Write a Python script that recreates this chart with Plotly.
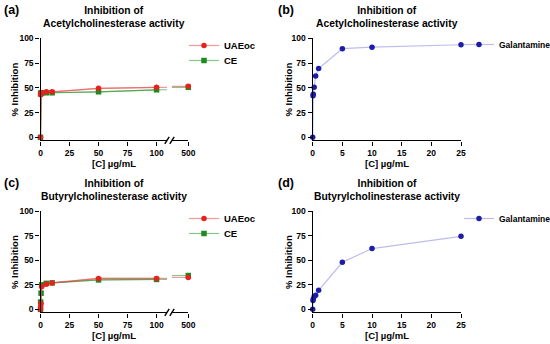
import plotly.graph_objects as go

# ---------------- data ----------------
conc_extract = [0, 0.1, 0.5, 1, 5, 10, 50, 100, 500]          # µg/mL
uaeoc_ache = [0, 43, 44.5, 45, 46, 46, 49.5, 50.5, 51.5]
ce_ache = [0, 44, 45, 45, 45, 45, 46, 48, 50.5]
uaeoc_bche = [0, 3, 6, 23, 25.5, 27, 31.5, 31.5, 32.5]
ce_bche = [0, 7.5, 16.5, 25, 26.5, 27, 30, 30.5, 34.5]

conc_gal = [0, 0.05, 0.1, 0.25, 0.5, 1, 5, 10, 25]
gal_ache = [0, 42, 43.5, 50.5, 62, 69.5, 89.5, 91, 93.5]
gal_bche = [0, 9, 10.5, 13, 14.5, 19.5, 48, 62, 74.5]

x_ticks_main = [0, 25, 50, 75, 100]
x_ticks_break = [500]
x_ticks_gal = [0, 5, 10, 15, 20, 25]
y_ticks = [0, 25, 50, 75, 100]
break_at = 100

# ---------------- style ----------------
W, H = 550, 344
FONT = "Liberation Sans"
RED, RED_L = "#e8201e", "rgba(235,70,70,0.55)"
GREEN, GREEN_L = "#1f8a1f", "rgba(40,150,40,0.55)"
BLUE, BLUE_L = "#1c1ca8", "rgba(90,90,210,0.40)"


def px_x(p):
    return p / W


def px_y(p):
    return 1 - p / H


fig = go.Figure()

tickfont = dict(family=FONT, size=8.5, color="black", weight="bold")
axis_common = dict(showline=True, linecolor="black", linewidth=1.4, ticks="outside",
                   ticklen=4, tickwidth=1.4, tickcolor="black", showgrid=False,
                   zeroline=False, tickfont=tickfont)

rows = {"top": (38.3, 140.3), "bottom": (211.3, 312.3)}
left1, left2, right = (40.5, 167), (172, 188.3), (312.7, 461)

layout_axes = {}


def xax(name, dom, rng, tickvals, anchor):
    layout_axes[name] = dict(axis_common, domain=[px_x(dom[0]), px_x(dom[1])], range=rng,
                             tickvals=tickvals, anchor=anchor)


def yax(name, dom, anchor):
    layout_axes[name] = dict(axis_common, domain=[px_y(dom[1]), px_y(dom[0])], range=[-3, 100],
                             tickvals=y_ticks, anchor=anchor)


# (a)
xax("xaxis", left1, [0, 109], x_ticks_main, "y")
xax("xaxis2", left2, [486, 500], x_ticks_break, "y")
yax("yaxis", rows["top"], "x")
# (b)
xax("xaxis3", right, [0, 25], x_ticks_gal, "y2")
yax("yaxis2", rows["top"], "x3")
# (c)
xax("xaxis4", left1, [0, 109], x_ticks_main, "y3")
xax("xaxis5", left2, [486, 500], x_ticks_break, "y3")
yax("yaxis3", rows["bottom"], "x4")
# (d)
xax("xaxis6", right, [0, 25], x_ticks_gal, "y4")
yax("yaxis4", rows["bottom"], "x6")


def add_broken(xs, ys, name, color, lcolor, symbol, xa1, xa2, ya, legend):
    lo_x = [x for x in xs if x <= break_at]
    lo_y = [y for x, y in zip(xs, ys) if x <= break_at]
    hi_x = [x for x in xs if x > break_at]
    hi_y = [y for x, y in zip(xs, ys) if x > break_at]
    line = dict(color=lcolor, width=1.2)
    marker = dict(color=color, size=5.5, symbol=symbol)
    fig.add_trace(go.Scatter(x=xs, y=ys, mode="lines", line=line, xaxis=xa1, yaxis=ya,
                             showlegend=False, hoverinfo="skip"))
    fig.add_trace(go.Scatter(x=xs, y=ys, mode="lines", line=line, xaxis=xa2, yaxis=ya,
                             showlegend=False, hoverinfo="skip"))
    fig.add_trace(go.Scatter(x=lo_x, y=lo_y, mode="lines+markers", line=line, marker=marker,
                             cliponaxis=False, xaxis=xa1, yaxis=ya, name=name,
                             legend=legend))
    fig.add_trace(go.Scatter(x=hi_x, y=hi_y, mode="markers", marker=marker, cliponaxis=False,
                             xaxis=xa2, yaxis=ya, showlegend=False))


# (a)
add_broken(conc_extract, ce_ache, "CE", GREEN, GREEN_L, "square", "x", "x2", "y", "legend5")
add_broken(conc_extract, uaeoc_ache, "UAEoc", RED, RED_L, "circle", "x", "x2", "y", "legend")
# (c)
add_broken(conc_extract, ce_bche, "CE", GREEN, GREEN_L, "square", "x4", "x5", "y3", "legend6")
add_broken(conc_extract, uaeoc_bche, "UAEoc", RED, RED_L, "circle", "x4", "x5", "y3", "legend3")
# (b), (d)
for xs, ys, xa, ya, lg in [(conc_gal, gal_ache, "x3", "y2", "legend2"),
                           (conc_gal, gal_bche, "x6", "y4", "legend4")]:
    fig.add_trace(go.Scatter(x=xs, y=ys, mode="lines+markers", name="Galantamine",
                             line=dict(color=BLUE_L, width=1.2),
                             marker=dict(color=BLUE, size=5.5), cliponaxis=False,
                             xaxis=xa, yaxis=ya, legend=lg))

# axis break marks
shapes = []
for xa1, xa2, ya in [("x", "x2", "y"), ("x4", "x5", "y3")]:
    for xr, xanc in [(xa1, 1), (xa2, 0)]:
        shapes.append(dict(type="line", xref=f"{xr} domain", yref=f"{ya} domain",
                           xsizemode="pixel", ysizemode="pixel", xanchor=xanc, yanchor=0,
                           x0=-2.2, x1=2.2, y0=-3.5, y1=3.5,
                           line=dict(color="black", width=1.4)))

anns = []
title_font = dict(family=FONT, size=10.3, color="black", weight="bold")
label_font = dict(family=FONT, size=12.5, color="black", weight="bold")
axt_font = dict(family=FONT, size=9.5, color="black", weight="bold")


def panel_text(label, title, xl, xr, ytop, ybot, col_left):
    cx = (xl + xr) / 2
    anns.append(dict(text=label, x=px_x(col_left + 11.5), y=px_y(ytop - 28), xref="paper",
                     yref="paper", showarrow=False, font=label_font, xanchor="center",
                     yanchor="middle"))
    anns.append(dict(text=title, x=px_x(cx), y=px_y(ytop - 21.3), xref="paper", yref="paper",
                     showarrow=False, font=title_font, xanchor="center", yanchor="middle"))
    anns.append(dict(text="[C] µg/mL", x=px_x(cx), y=px_y(ybot + 23), xref="paper",
                     yref="paper", showarrow=False, font=axt_font, xanchor="center",
                     yanchor="middle"))
    anns.append(dict(text="% Inhibition", x=px_x(col_left + 14.3), y=px_y((ytop + ybot) / 2),
                     xref="paper", yref="paper", showarrow=False, font=axt_font,
                     textangle=-90, xanchor="center", yanchor="middle"))


panel_text("(a)", "Inhibition of<br>Acetylcholinesterase activity", 40.5, 188.3, 38.3, 140.3, 0)
panel_text("(b)", "Inhibition of<br>Acetylcholinesterase activity", 312.7, 461, 38.3, 140.3, 274)
panel_text("(c)", "Inhibition of<br>Butyrylcholinesterase activity", 40.5, 188.3, 211.3, 312.3, 0)
panel_text("(d)", "Inhibition of<br>Butyrylcholinesterase activity", 312.7, 461, 211.3, 312.3, 274)


def legend_at(xp, yp, size):
    return dict(x=px_x(xp), y=px_y(yp), xanchor="left", yanchor="top", xref="paper",
                yref="paper", bgcolor="rgba(0,0,0,0)",
                font=dict(family=FONT, size=size, color="black", weight="bold"),
                itemwidth=30, tracegroupgap=0)


fig.update_layout(
    width=W, height=H, margin=dict(l=0, r=0, t=0, b=0, autoexpand=False),
    paper_bgcolor="white", plot_bgcolor="white",
    shapes=shapes, annotations=anns,
    legend=legend_at(184, 31, 9.5),
    legend5=legend_at(184, 46, 9.5),
    legend3=legend_at(184, 204, 9.5),
    legend6=legend_at(184, 219, 9.5),
    legend2=legend_at(459, 30, 8.5),
    legend4=legend_at(459, 204, 8.5),
    **layout_axes,
)

fig.write_html("out.html", config={"displayModeBar": False},
               post_script="document.body.style.margin='0';")
